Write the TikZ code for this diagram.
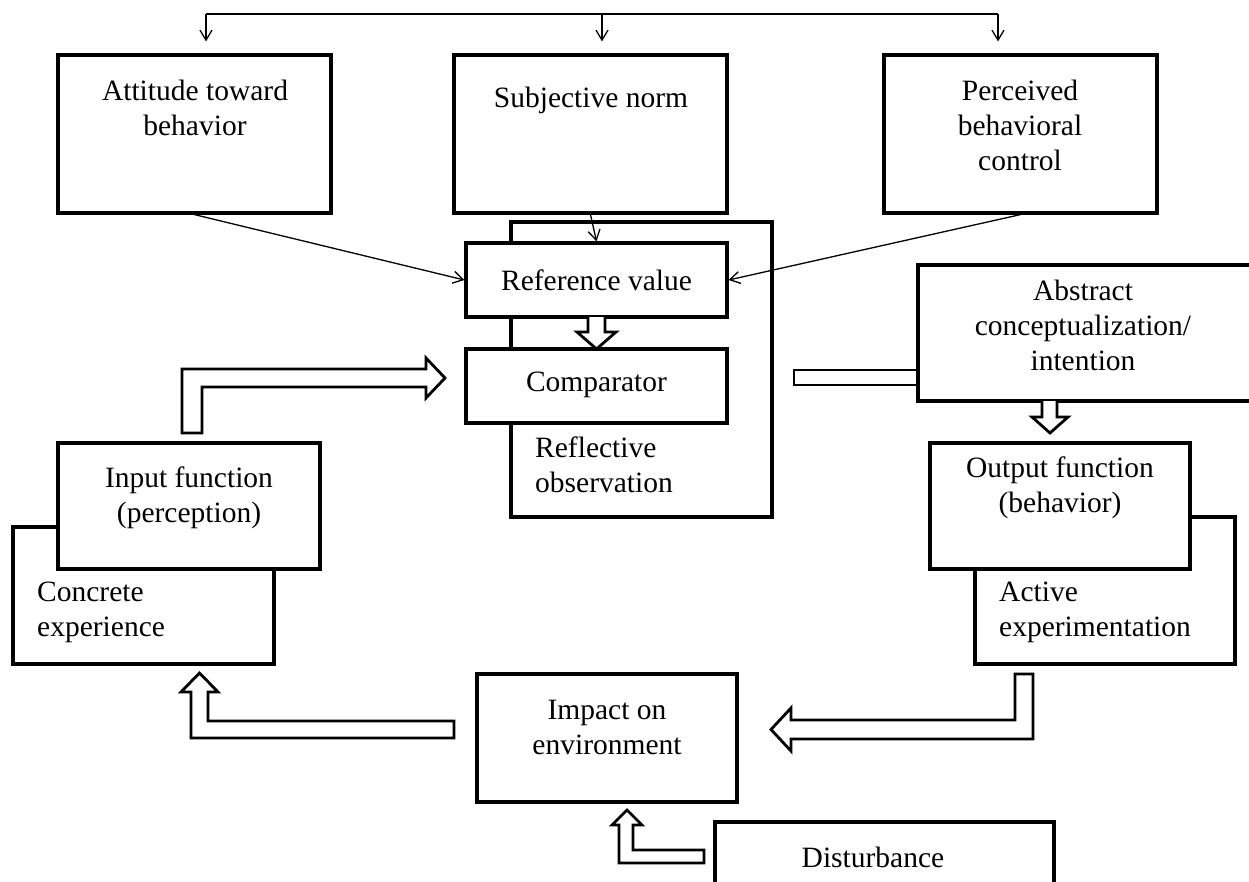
\documentclass[tikz,border=0pt]{standalone}
\usepackage{fontspec}
\setmainfont{Liberation Serif}
\usetikzlibrary{arrows.meta}

\begin{document}
\begin{tikzpicture}[
     x = 1pt, y = -1pt,
     box/.style = {
     	draw, black, fill = white, line width = 3.2pt, inner sep = 0pt},
     txt/.style = {
     	inner sep = 0pt, align = center, font = \fontsize{29.5}{35}\selectfont},
     hollow/.style = {draw, fill = white, line width = 2.8pt, line join = miter},
     link/.style = {line width = 1.3pt, -{Straight Barb[length=10pt, width=12pt]}}
     ]
       \clip (0,0) rectangle (1249,882);

       % top row
       \node[box, minimum width=273, minimum height=158] (att) at (194.5,134) {}; % attitude
       \node[box, minimum width=273, minimum height=158] (sn) at (590.5,134) {}; % subjective norm
       \node[box, minimum width=273, minimum height=158] (pbc) at (1020.5,134) {}; % perceived control
       \node[txt] (attT) at (195,107.5) {Attitude toward\\behavior};
       \node[txt] (snT) at (591,100) {Subjective norm};
       \node[txt] (pbcT) at (1020,125.5) {Perceived\\behavioral\\control};

       \coordinate (tl) at (206,14);
       \coordinate (tm) at (602,14);
       \coordinate (tr) at (998,14);
       \draw[line width=1.8pt] (tl)--(tr);
       \draw[link, shorten >=12pt] (tl)--(tl |- att.north);
       \draw[link, shorten >=12pt] (tm)--(tm |- sn.north);
       \draw[link, shorten >=12pt] (tr)--(tr |- pbc.north);

       % middle column
       \node[box, minimum width=261, minimum height=295] (refl) at (641.5,369.5) {}; % reflective
       \node[box, minimum width=261, minimum height=74] (ref) at (596.5,280) {}; % reference value
       \node[box, minimum width=261, minimum height=74] (cmp) at (596.5,386) {}; % comparator
       \node[txt] (refT) at (596.5,280) {Reference value};
       \node[txt] (cmpT) at (596.5,385) {Comparator};
       \node[txt, align=left, anchor=west] (reflT) at (535,465) {Reflective\\observation};
       \draw[hollow] (588,317)--(588,332)--(577,332)--(596.5,349)--(616,332)--(605,332)--(605,317);

       \draw[link] (att.south)--(ref.west);
       \draw[link] (sn.south)--(ref.north);
       \draw[link] (pbc.south)--(ref.east);

       % right column
       \draw[hollow] (794,370) rectangle (918,385);
       \node[box, minimum width=334, minimum height=136] (abs) at (1085,333) {}; % abstract
       \node[txt] (absT) at (1083,325) {Abstract\\conceptualization/\\intention};
       \draw[hollow] (1042,401)--(1042,417)--(1032,417)--(1050,433)--(1068,417)--(1057,417)--(1057,401);
       \node[box, minimum width=260, minimum height=147] (act) at (1105,590.5) {}; % active
       \node[box, minimum width=260, minimum height=126] (out) at (1060,506) {}; % output
       \node[txt] (outT) at (1060,487.5) {Output function\\(behavior)};
       \node[txt, align=left, anchor=west] (actT) at (999,612.5) {Active\\experimentation};

       % left column
       \node[box, minimum width=261, minimum height=137] (conc) at (143.5,595.5) {}; % concrete
       \node[box, minimum width=262, minimum height=126] (inp) at (189,506) {}; % input
       \node[txt] (inpT) at (189,497.5) {Input function\\(perception)};
       \node[txt, align=left, anchor=west] (concT) at (37,612.5) {Concrete\\experience};
       \draw[hollow] (182,433)--(182,369)--(426,369)--(426,358)--(445,378)--(426,398)--(426,387)--(202,387)--(202,433)--cycle;

       % bottom
       \node[box, minimum width=260, minimum height=128] (imp) at (607,738) {}; % impact
       \node[txt] (impT) at (607,727.5) {Impact on\\environment};
       \node[box, minimum width=339, minimum height=74] (dist) at (884.5,859) {}; % disturbance
       \node[txt] (distT) at (873,857) {Disturbance};
       \draw[hollow] (1015,674)--(1033,674)--(1033,739)--(791,739)--(791,751)--(771,729.5)--(791,708)--(791,720)--(1015,720)--cycle;
       \draw[hollow] (454,721)--(454,738)--(191,738)--(191,692)--(181,692)--(199.5,673)--(218,692)--(208,692)--(208,721)--cycle;
       \draw[hollow] (704,850)--(704,863)--(619,863)--(619,825)--(612,825)--(627,810)--(642,825)--(633,825)--(633,850)--cycle;

      \end{tikzpicture}
\end{document}
